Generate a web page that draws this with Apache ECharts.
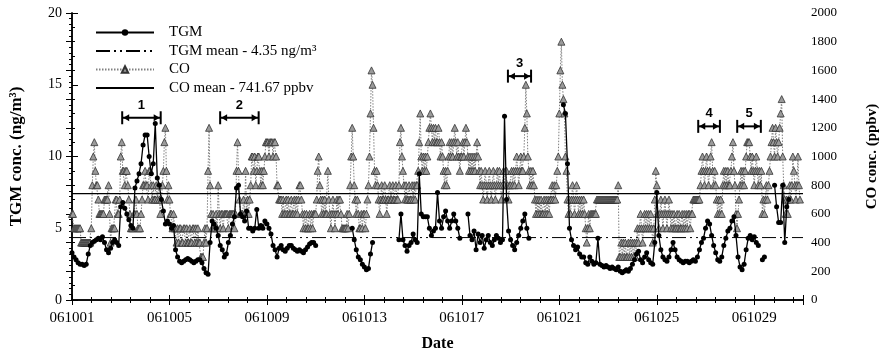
<!DOCTYPE html>
<html><head><meta charset="utf-8">
<script src="https://cdn.jsdelivr.net/npm/echarts@6/dist/echarts.min.js"></script>
<style>html,body{margin:0;padding:0;background:#fff}#c{width:888px;height:357px}</style>
</head><body><div id="c"></div>
<script>
// CO (ppbv), hourly, one row per day starting 061001 00:00
const coByDay = [
[600,600,500,500,500,500,500,500,500,400,400,400,400,400,400,400,400,400,400,500,800,1000,1100,900],
[800,800,700,600,600,600,600,600,700,700,700,700,800,600,400,500,500,500,500,700,700,600,600,700],
[1000,1100,900,900,800,900,900,800,700,600,500,500,500,600,600,700,600,500,500,500,600,700,800,800],
[900,800,800,700,900,900,800,700,800,700,700,800,700,800,700,600,700,800,900,1100,1200,900,700,800],
[700,600,600,500,600,500,500,400,500,400,500,500,400,400,500,500,400,500,400,400,500,400,400,500],
[500,400,500,400,500,400,400,300,300,300,400,500,400,500,900,1200,800,600,500,600,500,500,600,500],
[800,600,500,600,600,500,600,600,600,600,500,600,600,600,600,600,500,600,900,1100,900,700,600,600],
[600,700,600,900,600,700,600,700,800,1000,1000,900,1000,800,900,1000,1000,900,800,900,800,900,1000,1100],
[1100,1100,1000,1100,1100,1100,1000,1100,1100,1000,800,800,700,700,700,600,700,600,600,700,600,700,600,600],
[700,600,600,700,600,700,600,700,800,800,700,600,500,600,500,600,500,500,600,500,600,500,600,600],
[600,700,900,1000,800,700,600,700,600,700,600,600,900,700,600,500,600,700,600,500,600,700,600,700],
[700,600,500,500,500,500,500,600,500,600,800,1000,1200,1000,800,700,600,700,600,500,500,600,500,600],
[600,500,600,700,800,1000,1300,1600,1500,1200,900,800,900,800,700,600,700,800,700,700,800,700,600,700],
[700,800,700,700,800,700,700,800,700,700,800,1100,1200,1000,900,800,700,800,700,700,800,700,700,800],
[700,800,700,800,800,900,1100,1300,1000,900,1000,900,1000,900,1000,1100,1200,1300,1200,1100,1200,1100,1200,1100],
[1100,1200,1100,1000,1100,1000,900,800,900,800,900,1000,1100,1000,1100,1000,1100,1200,1100,1000,1100,1000,900,1000],
[1000,1100,1000,1100,1200,1100,1000,900,1000,900,1000,900,1000,900,1000,1100,1000,900,800,900,800,700,800,900],
[800,700,800,900,800,700,800,900,800,700,800,900,800,900,800,700,800,900,800,900,900,800,700,800],
[800,900,800,900,800,900,1000,900,800,900,1000,900,900,1000,1200,1500,1300,1000,900,800,900,800,900,800],
[700,600,700,600,700,600,700,600,600,700,600,700,600,700,600,700,700,800,700,800,700,800,900,1000],
[1300,1600,1800,1500,1400,1300,1000,900,700,600,700,600,700,800,700,600,700,800,700,600,700,600,700,600],
[700,600,500,400,500,600,500,600,600,600,600,600,600,700,700,700,700,700,700,700,700,700,700,700],
[700,700,700,700,700,700,700,700,700,700,800,300,300,400,300,400,300,400,300,300,400,300,400,300],
[400,300,400,300,400,500,400,500,600,500,400,500,600,500,600,500,600,500,600,500,400,500,700,900],
[800,600,500,600,700,600,500,600,700,600,500,600,700,600,500,600,500,600,500,500,600,500,600,500],
[500,600,500,600,500,600,500,600,600,500,600,600,700,700,700,700,700,700,700,800,900,1000,900,800],
[900,1000,900,800,900,1000,1100,900,800,900,800,700,600,700,600,700,600,800,900,800,900,800,900,800],
[800,900,1000,1100,900,800,600,500,600,700,800,900,800,900,800,900,1000,1100,1100,1100,1000,900,1000,900],
[800,900,1000,900,800,900,800,900,600,700,600,700,800,700,800,900,1000,1100,1200,1100,1000,1200,1100,1000],
[1100,1200,1300,1400,1000,800,700,600,700,600,700,800,700,800,1000,900,800,700,800,1000,800,700]
];
// TGM (ng/m3), every 2 hours, one row per day; null = no data
const tgmByDay = [
[3.3,3.0,2.8,2.6,2.5,2.5,2.4,2.5,3.2,3.8,4.0,4.1],
[4.2,4.3,4.2,4.4,4.0,3.5,3.3,3.6,4.0,4.2,4.0,3.8],
[6.5,6.8,6.4,6.0,5.6,5.2,5.0,7.8,8.3,8.8,9.5,10.8],
[11.5,11.5,10.0,8.8,9.5,12.3,8.5,8.0,7.0,6.2,5.3,5.5],
[5.3,5.0,5.2,3.5,3.0,2.7,2.6,2.7,2.8,2.9,2.8,2.7],
[2.6,2.7,2.8,2.8,2.6,2.2,1.9,1.8,4.0,5.5,5.3,5.0],
[4.5,3.8,3.5,3.0,3.2,4.0,4.5,5.3,5.8,7.8,8.0,6.0],
[5.8,5.5,6.2,5.0,5.0,4.8,5.0,6.3,5.0,5.2,5.0,5.5],
[5.3,5.0,4.6,3.8,3.5,3.0,3.6,3.8,3.5,3.4,3.6,3.8],
[3.8,3.6,3.5,3.4,3.5,3.4,3.3,3.5,3.7,3.9,4.0,4.0],
[3.8,null,null,null,null,null,null,null,null,null,null,null],
[null,null,null,null,null,null,5.0,4.2,3.5,3.0,2.8,2.5],
[2.3,2.1,2.2,3.2,4.0,null,null,null,null,null,null,null],
[null,null,null,null,null,4.2,6.0,4.2,3.8,3.4,3.8,4.0],
[4.6,4.2,4.0,8.8,6.0,5.8,5.8,5.8,5.0,4.5,4.8,5.0],
[7.5,5.5,5.0,5.8,6.2,5.5,5.0,5.5,6.0,5.5,5.0,4.3],
[null,null,null,6.0,4.5,4.2,4.8,3.5,4.6,4.0,4.5,3.6],
[4.2,4.5,4.0,3.8,4.2,4.5,4.3,4.0,4.2,12.8,7.0,4.8],
[4.2,3.8,3.5,4.0,4.5,5.0,5.5,6.0,5.0,4.3,null,null],
[null,null,null,null,null,null,null,null,null,null,null,null],
[null,null,13.6,13.0,9.5,5.0,4.2,3.8,3.5,3.7,3.2,3.0],
[3.0,2.6,2.5,3.0,2.7,2.5,2.6,4.3,2.5,2.4,2.3,2.4],
[2.3,2.2,2.3,2.2,2.1,2.3,2.0,1.9,2.0,2.1,2.0,2.2],
[2.5,2.8,3.2,3.4,2.8,2.6,3.0,3.3,2.8,2.6,2.5,4.0],
[7.5,4.5,3.5,3.0,2.8,2.7,3.0,3.5,4.0,3.5,3.0,2.8],
[2.7,2.6,2.7,2.7,2.6,2.7,2.8,2.7,3.0,3.5,4.0,4.3],
[5.0,5.5,5.3,4.5,3.8,3.3,2.8,2.7,3.0,3.8,4.3,4.8],
[5.0,5.5,5.8,4.5,3.0,2.3,2.1,2.5,3.5,4.3,4.5,4.2],
[4.4,4.0,3.8,null,2.8,3.0,null,null,null,null,8.0,6.5],
[5.4,5.4,8.0,4.0,6.5,7.0]
];
const TGM_MEAN = 4.35;
const CO_MEAN = 741.67;
const dateLabels = ['061001','061005','061009','061013','061017','061021','061025','061029'];
const legendNames = ['TGM','TGM mean - 4.35 ng/m\u00b3','CO','CO mean - 741.67 ppbv'];
// episode brackets: [start day, end day, TGM-axis level, label]
const episodes = [
  [2.06, 3.64, 12.7, '1'],
  [6.08, 7.66, 12.7, '2'],
  [17.89, 18.84, 15.6, '3'],
  [25.70, 26.59, 12.1, '4'],
  [27.30, 28.27, 12.1, '5']
];

const coData = coByDay.flat().map((v, i) => [i / 24, v]);
const tgmData = tgmByDay.flat().map((v, i) => [i / 12, v]);

const serif = 'Liberation Serif';
const chart = echarts.init(document.getElementById('c'), null, {renderer: 'canvas'});
const axisLine = {show: true, lineStyle: {color: '#000', width: 1.5}};
const hidden = {color: 'rgba(0,0,0,0)', borderWidth: 0};
chart.setOption({
  animation: false,
  backgroundColor: '#fff',
  grid: {left: 72, right: 77, top: 13, bottom: 56},
  legend: {
    orient: 'vertical', left: 90, top: 20, itemWidth: 58, itemHeight: 8, itemGap: 3.5,
    data: legendNames,
    textStyle: {fontFamily: serif, fontSize: 15, color: '#000', padding: [0, 0, 0, 10]}
  },
  xAxis: [{
    type: 'value', min: 0, max: 30, interval: 4, position: 'bottom',
    axisLine: axisLine,
    axisTick: {inside: true, length: 5, lineStyle: {color: '#000'}},
    minorTick: {show: true, splitNumber: 5, length: 3, lineStyle: {color: '#000'}},
    splitLine: {show: false},
    axisLabel: {margin: 11, fontFamily: serif, fontSize: 15, color: '#000',
      formatter: v => dateLabels[Math.round(v / 4)] || ''},
    name: 'Date', nameLocation: 'middle', nameGap: 36,
    nameTextStyle: {fontFamily: serif, fontSize: 16, fontWeight: 'bold', color: '#000'}
  }, {
    type: 'value', min: 0, max: 30, interval: 4, position: 'top',
    axisLine: axisLine,
    axisTick: {inside: true, length: 5, lineStyle: {color: '#000'}},
    minorTick: {show: true, splitNumber: 5, length: 3, lineStyle: {color: '#000'}},
    splitLine: {show: false}, axisLabel: {show: false}
  }],
  yAxis: [{
    type: 'value', min: 0, max: 20, interval: 5, position: 'left',
    axisLine: axisLine,
    axisTick: {inside: true, length: 6, lineStyle: {color: '#000'}},
    minorTick: {show: true, splitNumber: 5, length: 3, lineStyle: {color: '#000'}},
    splitLine: {show: false},
    axisLabel: {margin: 10, fontFamily: serif, fontSize: 14, color: '#000'},
    name: 'TGM conc. (ng/m\u00b3)', nameLocation: 'middle', nameGap: 47, nameRotate: 90,
    nameTextStyle: {fontFamily: serif, fontSize: 17, fontWeight: 'bold', color: '#000'}
  }, {
    type: 'value', min: 0, max: 2000, interval: 200, position: 'right',
    axisLine: axisLine,
    axisTick: {inside: true, length: 6, lineStyle: {color: '#000'}},
    minorTick: {show: true, splitNumber: 5, length: 3, lineStyle: {color: '#000'}},
    splitLine: {show: false},
    axisLabel: {margin: 8, fontFamily: serif, fontSize: 13, color: '#000', formatter: v => String(v)},
    name: 'CO conc. (ppbv)', nameLocation: 'middle', nameGap: 62, nameRotate: 90,
    nameTextStyle: {fontFamily: serif, fontSize: 15, fontWeight: 'bold', color: '#000'}
  }],
  series: [
    {
      name: legendNames[2], type: 'line', xAxisIndex: 0, yAxisIndex: 1, data: coData,
      symbol: 'triangle', symbolSize: 7, showSymbol: true, showAllSymbol: true,
      lineStyle: {color: '#808080', width: 1, type: [1.5, 1.5]},
      itemStyle: {color: '#9a9a9a', borderColor: '#333', borderWidth: 0.8},
      z: 2
    },
    {
      name: legendNames[3], type: 'line', xAxisIndex: 0, yAxisIndex: 1,
      data: [[0, CO_MEAN], [30, CO_MEAN]], symbol: 'none',
      lineStyle: {color: '#000', width: 1.2}, itemStyle: hidden, z: 3
    },
    {
      name: legendNames[1], type: 'line', xAxisIndex: 0, yAxisIndex: 0,
      data: [[0, TGM_MEAN], [30, TGM_MEAN]], symbol: 'none',
      lineStyle: {color: '#000', width: 1, type: [14, 4, 2, 4, 2, 4]}, itemStyle: hidden, z: 3
    },
    {
      name: legendNames[0], type: 'line', xAxisIndex: 0, yAxisIndex: 0, data: tgmData,
      symbol: 'circle', symbolSize: 5, showSymbol: true, showAllSymbol: true, connectNulls: false,
      lineStyle: {color: '#000', width: 1.3}, itemStyle: {color: '#000'}, z: 4
    },
    {
      type: 'custom', xAxisIndex: 0, yAxisIndex: 0, silent: true, z: 5,
      data: episodes.map(e => [e[0], e[1], e[2]]),
      renderItem: function (params, api) {
        const a = api.coord([api.value(0), api.value(2)]);
        const b = api.coord([api.value(1), api.value(2)]);
        const lbl = episodes[params.dataIndex][3];
        const h = 6.5, ah = 6, aw = 3.5;
        return {type: 'group', children: [
          {type: 'line', shape: {x1: a[0], y1: a[1], x2: b[0], y2: b[1]}, style: {stroke: '#000', lineWidth: 2}},
          {type: 'line', shape: {x1: a[0], y1: a[1] - h, x2: a[0], y2: a[1] + h}, style: {stroke: '#000', lineWidth: 2}},
          {type: 'line', shape: {x1: b[0], y1: b[1] - h, x2: b[0], y2: b[1] + h}, style: {stroke: '#000', lineWidth: 2}},
          {type: 'polygon', shape: {points: [[a[0] + 1, a[1]], [a[0] + 1 + ah, a[1] - aw], [a[0] + 1 + ah, a[1] + aw]]}, style: {fill: '#000'}},
          {type: 'polygon', shape: {points: [[b[0] - 1, b[1]], [b[0] - 1 - ah, b[1] - aw], [b[0] - 1 - ah, b[1] + aw]]}, style: {fill: '#000'}},
          {type: 'text', style: {text: lbl, x: (a[0] + b[0]) / 2, y: a[1] - 6, align: 'center', verticalAlign: 'bottom',
            font: 'bold 13px "Liberation Sans"', fill: '#000'}}
        ]};
      }
    }
  ]
});
</script>
</body></html>
